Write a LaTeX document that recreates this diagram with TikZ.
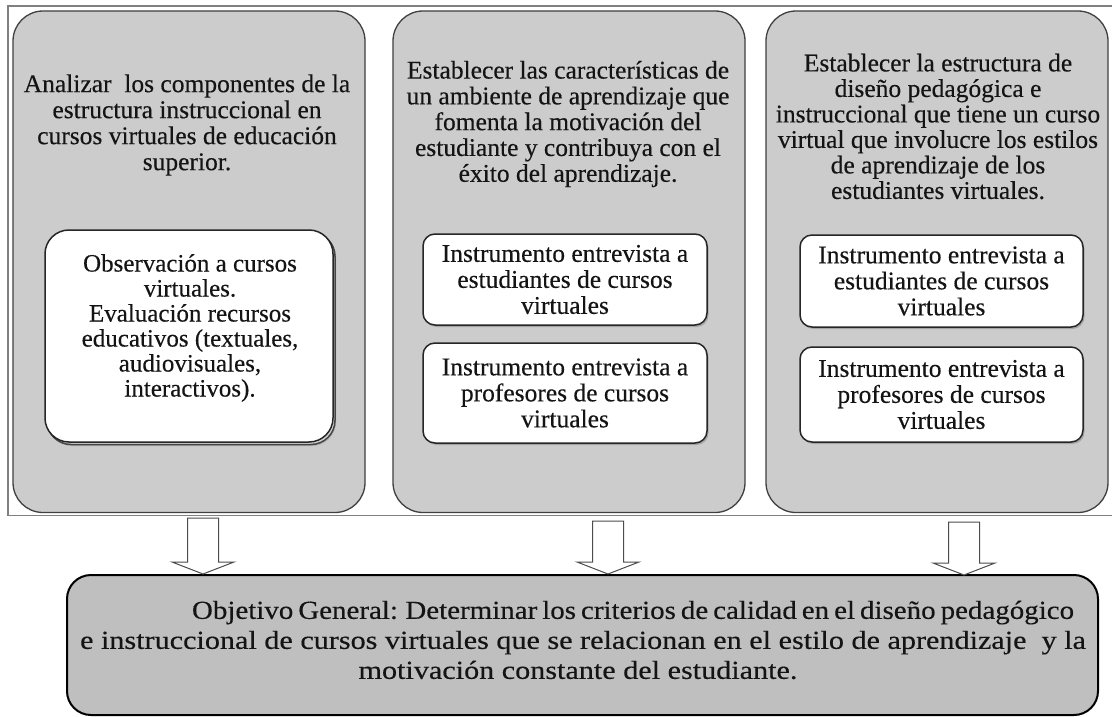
\documentclass[tikz,border=0pt]{standalone}
\usepackage{fontspec}
\setmainfont{Liberation Serif}[FakeBold=0.35]
\newfontfamily\bodyfont[FakeBold=0.35]{Liberation Serif}
\newfontfamily\widefont[FakeStretch=1.16,FakeBold=0.35]{Liberation Serif}
\usetikzlibrary{shadows,calc}
\begin{document}
\begin{tikzpicture}[x=1pt,y=-1pt,
  frame/.style={draw=black!50, line width=1.8pt, inner sep=0pt},
  panel/.style={draw=black!75, line width=1.3pt, fill=black!20, rounded corners=30pt, inner sep=0pt},
  ttl/.style={align=center, font=\bodyfont\fontsize{25.5}{25.5}\selectfont, text=black!92, inner sep=0pt},
  inbox/.style={draw=black!85, line width=1.5pt, fill=white, rounded corners=12pt, inner sep=0pt,
     align=center, font=\bodyfont\fontsize{25.5}{26}\selectfont, text=black!92,
     drop shadow={shadow xshift=1.5pt, shadow yshift=-2pt, opacity=0.5}},
  goal/.style={draw=black, line width=2pt, fill=black!25, rounded corners=24pt, inner sep=0pt},
  barrow/.style={draw=black!70, line width=1pt, fill=white, line join=miter},
]
\useasboundingbox (0,0) rectangle (1112,717);
\fill[white] (0,0) rectangle (1112,717);

% outer frame
\node[frame, minimum width=1110pt, minimum height=509.5pt] (frm) at (563,260.75) {};

% panels
\node[panel, minimum width=352pt, minimum height=501.5pt] (p1) at (189,261.75) {};
\node[panel, minimum width=352pt, minimum height=501.5pt] (p2) at (569,261.75) {};
\node[panel, minimum width=342pt, minimum height=501.5pt] (p3) at (937,261.75) {};

% panel titles
\node[ttl, font=\bodyfont\fontsize{25.5}{26}\selectfont] (t1) at (187,125) {Analizar\ \ los componentes de la\\ estructura instruccional en\\ cursos virtuales de educación\\ superior.};
\node[ttl, font=\bodyfont\fontsize{25.5}{25.8}\selectfont] (t2) at (568,124) {Establecer las características de\\ un ambiente de aprendizaje que\\ fomenta la motivación del\\ estudiante y contribuya con el\\ éxito del aprendizaje.};
\node[ttl] (t3) at (938,126.5) {Establecer la estructura de\\ diseño pedagógica e\\ instruccional que tiene un curso\\ virtual que involucre los estilos\\ de aprendizaje de los\\ estudiantes virtuales.};

% inner boxes
\node[draw=black!85, line width=1.5pt, fill=white, rounded corners=24pt, inner sep=0pt,
      minimum width=288pt, minimum height=212pt,
      copy shadow={shadow xshift=2pt, shadow yshift=-2.5pt},
      drop shadow={shadow xshift=3pt, shadow yshift=-4pt, opacity=0.35}] (i1) at (189,336) {};
\node[ttl, font=\bodyfont\fontsize{25}{25}\selectfont] (i1t) at (190,328) {Observación a cursos\\ virtuales.\\ Evaluación recursos\\ educativos (textuales,\\ audiovisuales,\\ interactivos).};

\node[inbox, minimum width=284pt, minimum height=91pt] (i2a) at (565,279.5) {Instrumento entrevista a\\ estudiantes de cursos\\ virtuales};
\node[inbox, minimum width=284pt, minimum height=100pt] (i2b) at (565,393) {Instrumento entrevista a\\ profesores de cursos\\ virtuales};
\node[inbox, minimum width=283pt, minimum height=92pt] (i3a) at (941.5,281) {Instrumento entrevista a\\ estudiantes de cursos\\ virtuales};
\node[inbox, minimum width=283pt, minimum height=95pt] (i3b) at (941.5,394.5) {Instrumento entrevista a\\ profesores de cursos\\ virtuales};

% goal box
\node[goal, minimum width=1031pt, minimum height=140pt] (obj) at (582.5,645) {};
\node[align=center, inner sep=0pt, text=black!92, font=\widefont\fontsize{26}{30}\selectfont] (objt) at (583,640)
 {\hspace*{100pt}\scalebox{0.96}[1]{\spaceskip=0.2em Objetivo General: Determinar los criterios de calidad en el diseño pedagógico}\\
  e instruccional de cursos virtuales que se relacionan en el estilo de aprendizaje\ \ y la\\
  motivación constante del estudiante.\hspace*{10pt}};

% block arrows
\coordinate (a1) at (203,574);
\coordinate (a2) at (608,574);
\coordinate (a3) at (964,575);
\foreach \a/\len in {a1/56, a2/53, a3/53}{
  \draw[barrow] ($(\a)+(-15.5,-\len)$) -- ($(\a)+(15.5,-\len)$) -- ($(\a)+(15.5,-12)$) -- ($(\a)+(31,-12)$)
     -- (\a) -- ($(\a)+(-31,-12)$) -- ($(\a)+(-15.5,-12)$) -- cycle;
}
\end{tikzpicture}
\end{document}
